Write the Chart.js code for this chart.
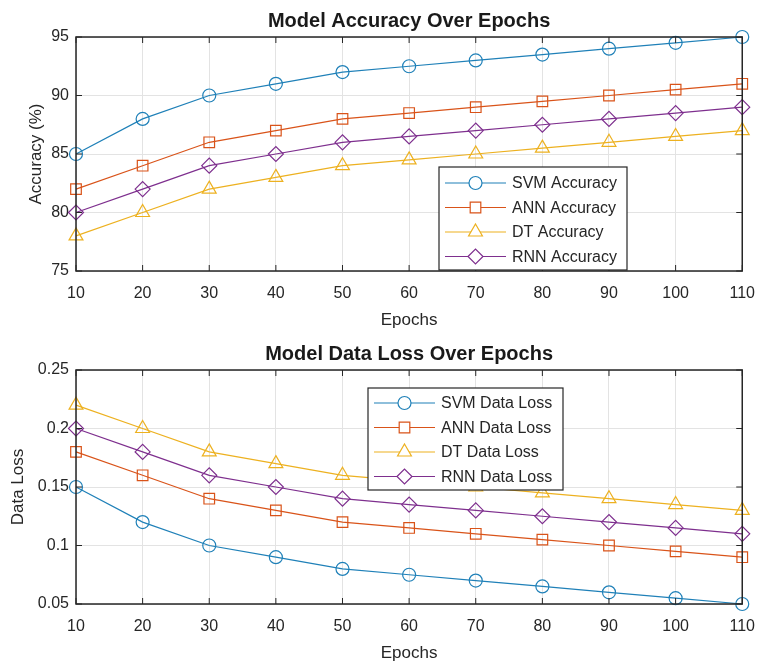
<!DOCTYPE html>
<html>
<head>
<meta charset="utf-8">
<script src="https://cdn.jsdelivr.net/npm/chart.js@4.4.1/dist/chart.umd.min.js"></script>
<style>
  body { margin: 0; background: #fff; }
  .wrap { position: absolute; left: 0; width: 768px; height: 333px; }
</style>
</head>
<body>
<div class="wrap" style="top:0"><canvas id="accChart" width="768" height="333"></canvas></div>
<div class="wrap" style="top:333px"><canvas id="lossChart" width="768" height="333"></canvas></div>
<script>
// Chart data
const epochs = [10, 20, 30, 40, 50, 60, 70, 80, 90, 100, 110];

const svmAcc = [85, 88, 90, 91, 92, 92.5, 93, 93.5, 94, 94.5, 95];
const annAcc = [82, 84, 86, 87, 88, 88.5, 89, 89.5, 90, 90.5, 91];
const dtAcc  = [78, 80, 82, 83, 84, 84.5, 85, 85.5, 86, 86.5, 87];
const rnnAcc = [80, 82, 84, 85, 86, 86.5, 87, 87.5, 88, 88.5, 89];

const svmLoss = [0.15, 0.12, 0.10, 0.09, 0.08, 0.075, 0.07, 0.065, 0.06, 0.055, 0.05];
const annLoss = [0.18, 0.16, 0.14, 0.13, 0.12, 0.115, 0.11, 0.105, 0.10, 0.095, 0.09];
const dtLoss  = [0.22, 0.20, 0.18, 0.17, 0.16, 0.155, 0.15, 0.145, 0.14, 0.135, 0.13];
const rnnLoss = [0.20, 0.18, 0.16, 0.15, 0.14, 0.135, 0.13, 0.125, 0.12, 0.115, 0.11];

const accTicks = [75, 80, 85, 90, 95];
const lossTicks = [0.05, 0.1, 0.15, 0.2, 0.25];

const colors = ['#1f80b8', '#d95319', '#edb120', '#7e2f8e'];
const markers = ['circle', 'rect', 'triangle', 'rectRot'];
const markerSize = [6.5, 7.5, 8, 7.5];

const FONT = 'Arial, "Liberation Sans", sans-serif';

function makeDataset(label, values, i) {
    return {
        label: label,
        data: epochs.map((x, j) => ({ x: x, y: values[j] })),
        borderColor: colors[i],
        backgroundColor: 'transparent',
        borderWidth: 1.2,
        pointStyle: markers[i],
        pointRadius: markerSize[i],
        pointBorderColor: colors[i],
        pointBackgroundColor: 'transparent',
        pointBorderWidth: 1.2,
        tension: 0,
        clip: false
    };
}

// box around the plot + inward ticks, like MATLAB
const boxPlugin = {
    id: 'box',
    afterDraw(chart) {
        const ctx = chart.ctx;
        const a = chart.chartArea;
        const xs = chart.scales.x, ys = chart.scales.y;
        ctx.save();
        ctx.strokeStyle = '#262626';
        ctx.lineWidth = 1.5;
        ctx.strokeRect(a.left, a.top, a.right - a.left, a.bottom - a.top);
        ctx.lineWidth = 1;
        xs.ticks.forEach(t => {
            const px = xs.getPixelForValue(t.value);
            ctx.beginPath();
            ctx.moveTo(px, a.bottom); ctx.lineTo(px, a.bottom - 6);
            ctx.moveTo(px, a.top); ctx.lineTo(px, a.top + 6);
            ctx.stroke();
        });
        ys.ticks.forEach(t => {
            const py = ys.getPixelForValue(t.value);
            ctx.beginPath();
            ctx.moveTo(a.left, py); ctx.lineTo(a.left + 6, py);
            ctx.moveTo(a.right, py); ctx.lineTo(a.right - 6, py);
            ctx.stroke();
        });
        ctx.restore();
    }
};

// legend drawn inside the plot area
const innerLegend = {
    id: 'innerLegend',
    afterDraw(chart, args, opts) {
        const ctx = chart.ctx;
        const b = opts.box;
        ctx.save();
        ctx.fillStyle = '#fff';
        ctx.fillRect(b.x, b.y, b.w, b.h);
        ctx.strokeStyle = '#262626';
        ctx.lineWidth = 1.2;
        ctx.strokeRect(b.x, b.y, b.w, b.h);
        ctx.font = '16px ' + FONT;
        ctx.textBaseline = 'middle';
        ctx.textAlign = 'left';
        chart.data.datasets.forEach((ds, i) => {
            const y = b.y + opts.rowTop + i * opts.rowGap;
            const x0 = b.x + 6, x1 = b.x + opts.sample;
            ctx.strokeStyle = ds.borderColor;
            ctx.lineWidth = 1.2;
            ctx.beginPath();
            ctx.moveTo(x0, y); ctx.lineTo(x1, y);
            ctx.stroke();
            // white behind marker so the sample line doesn't cross it
            ctx.fillStyle = '#fff';
            Chart.helpers.drawPoint(ctx, {
                pointStyle: ds.pointStyle,
                radius: ds.pointRadius,
                borderWidth: 1.2,
                rotation: 0
            }, (x0 + x1) / 2, y);
            ctx.fillStyle = '#262626';
            ctx.fillText(ds.label, x1 + 6, y + 1);
        });
        ctx.restore();
    }
};

function makeChart(id, datasets, yMin, yMax, yTicks, yTitle, padLeft, legendBox, tickFmt) {
    const ctx = document.getElementById(id).getContext('2d');
    return new Chart(ctx, {
        type: 'line',
        data: { datasets: datasets },
        plugins: [boxPlugin, innerLegend],
        options: {
            responsive: false,
            animation: false,
            layout: { padding: { left: padLeft, right: 17, top: 0, bottom: 2 } },
            plugins: {
                legend: { display: false },
                tooltip: { enabled: false },
                title: {
                    display: true,
                    text: datasets.title,
                    fullSize: false,
                    color: '#1a1a1a',
                    font: { family: FONT, size: 20, weight: 'bold', lineHeight: 1.2 },
                    padding: { top: 9, bottom: 4 }
                },
                innerLegend: legendBox
            },
            scales: {
                x: {
                    type: 'linear',
                    min: 10,
                    max: 110,
                    afterBuildTicks: s => { s.ticks = epochs.map(v => ({ value: v })); },
                    ticks: {
                        color: '#262626',
                        padding: 13,
                        maxRotation: 0,
                        font: { family: FONT, size: 16 }
                    },
                    grid: { color: '#e3e3e3', drawTicks: false },
                    border: { display: false },
                    title: {
                        display: true,
                        text: 'Epochs',
                        color: '#262626',
                        padding: 0,
                        font: { family: FONT, size: 17, lineHeight: 1.2 }
                    },
                    afterFit: s => { s.height = 60; }
                },
                y: {
                    min: yMin,
                    max: yMax,
                    afterBuildTicks: s => { s.ticks = yTicks.map(v => ({ value: v })); },
                    ticks: {
                        color: '#262626',
                        padding: 7,
                        font: { family: FONT, size: 16 },
                        callback: tickFmt
                    },
                    grid: { color: '#e3e3e3', drawTicks: false },
                    border: { display: false },
                    title: {
                        display: true,
                        text: yTitle,
                        color: '#262626',
                        padding: 0,
                        font: { family: FONT, size: 17, lineHeight: 1.2 }
                    },
                    afterFit: s => { s.width = 76 - padLeft; }
                }
            }
        }
    });
}

const accSets = [
    makeDataset('SVM Accuracy', svmAcc, 0),
    makeDataset('ANN Accuracy', annAcc, 1),
    makeDataset('DT Accuracy', dtAcc, 2),
    makeDataset('RNN Accuracy', rnnAcc, 3)
];
accSets.title = 'Model Accuracy Over Epochs';

const lossSets = [
    makeDataset('SVM Data Loss', svmLoss, 0),
    makeDataset('ANN Data Loss', annLoss, 1),
    makeDataset('DT Data Loss', dtLoss, 2),
    makeDataset('RNN Data Loss', rnnLoss, 3)
];
lossSets.title = 'Model Data Loss Over Epochs';

makeChart('accChart', accSets, 75, 95, accTicks, 'Accuracy (%)', 26,
    { box: { x: 439, y: 167, w: 188, h: 103 }, rowTop: 16, rowGap: 24.5, sample: 67 },
    v => String(v));

makeChart('lossChart', lossSets, 0.05, 0.25, lossTicks, 'Data Loss', 8,
    { box: { x: 368, y: 55, w: 195, h: 102 }, rowTop: 15, rowGap: 24.5, sample: 67 },
    v => String(parseFloat(v.toFixed(2))));
</script>
</body>
</html>
